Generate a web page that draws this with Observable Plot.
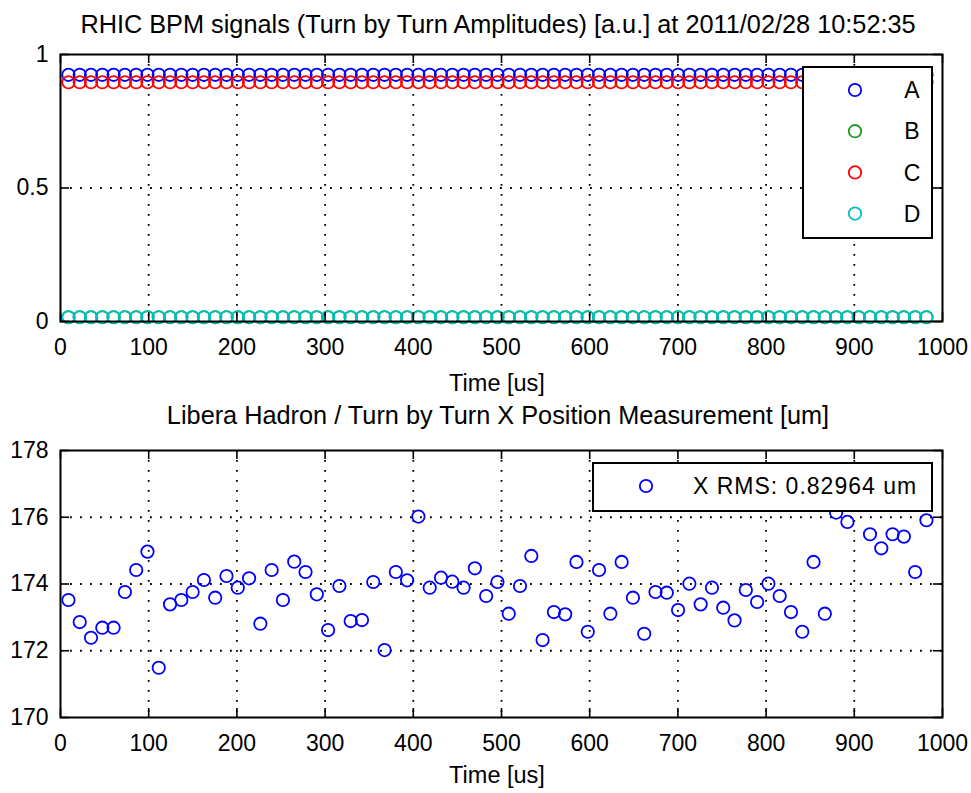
<!DOCTYPE html>
<html>
<head>
<meta charset="utf-8">
<script src="https://cdn.jsdelivr.net/npm/d3@7"></script>
<script src="https://cdn.jsdelivr.net/npm/@observablehq/plot@0.6"></script>
<style>
  html, body { margin: 0; padding: 0; background: #fff; }
  #wrap { position: relative; width: 971px; height: 793px; background: #fff; overflow: hidden;
          font-family: "Liberation Sans", Arial, Helvetica, sans-serif; color: #000; }
  .abs { position: absolute; }
  .ctr { transform: translate(-50%, -50%); white-space: nowrap; }
  .legend { position: absolute; box-sizing: border-box; border: 2px solid #000; background: #fff; }
</style>
</head>
<body>
<div id="wrap"></div>
<script>
// ---------- data ----------
const titleTop = "RHIC BPM signals (Turn by Turn Amplitudes) [a.u.] at 2011/02/28 10:52:35";
const titleBottom = "Libera Hadron / Turn by Turn X Position Measurement [um]";
const xLabel = "Time [us]";

// turn times [us]
const times = [9, 21.8, 34.6, 47.4, 60.2, 73, 85.8, 98.6, 111.4, 124.2,
  137, 149.8, 162.6, 175.4, 188.2, 201, 213.8, 226.6, 239.4, 252.2,
  265, 277.8, 290.6, 303.4, 316.2, 329, 341.8, 354.6, 367.4, 380.2,
  393, 405.8, 418.6, 431.4, 444.2, 457, 469.8, 482.6, 495.4, 508.2,
  521, 533.8, 546.6, 559.4, 572.2, 585, 597.8, 610.6, 623.4, 636.2,
  649, 661.8, 674.6, 687.4, 700.2, 713, 725.8, 738.6, 751.4, 764.2,
  777, 789.8, 802.6, 815.4, 828.2, 841, 853.8, 866.6, 879.4, 892.2,
  905, 917.8, 930.6, 943.4, 956.2, 969, 981.8];

// BPM channel amplitudes (constant per channel)
const channels = ["A", "B", "C", "D"];
const channelLevels = [0.924, 0.016, 0.896, 0.016];
const channelColors = ["#0000ff", "#1f9a1f", "#ff0000", "#00bfbf"];

// X position [um]
const xPos = [173.52, 172.86, 172.39, 172.69, 172.69, 173.76, 174.42, 174.97, 171.49, 173.39,
  173.52, 173.76, 174.12, 173.59, 174.24, 173.89, 174.17, 172.81, 174.42, 173.52,
  174.67, 174.36, 173.69, 172.62, 173.94, 172.89, 172.92, 174.06, 172.02, 174.36,
  174.11, 176.02, 173.89, 174.19, 174.07, 173.89, 174.47, 173.64, 174.06, 173.11,
  173.94, 174.84, 172.32, 173.16, 173.09, 174.66, 172.57, 174.42, 173.11, 174.66,
  173.59, 172.51, 173.76, 173.74, 173.22, 174.01, 173.39, 173.89, 173.29, 172.91,
  173.82, 173.46, 174.01, 173.64, 173.16, 172.57, 174.66, 173.11, 176.14, 175.86,
  176.6, 175.49, 175.07, 175.49, 175.42, 174.36, 175.91];
const rmsLabel = "X RMS: 0.82964 um";

const xTicks = [0, 100, 200, 300, 400, 500, 600, 700, 800, 900, 1000];
const xGrid = [100, 200, 300, 400, 500, 600, 700, 800, 900];
const yTicksTop = [0, 0.5, 1];
const yGridTop = [0.5];
const yTicksBottom = [170, 172, 174, 176, 178];
const yGridBottom = [172, 174, 176];

// ---------- build ----------
const FONT = '"Liberation Sans", Arial, Helvetica, sans-serif';
const W = 971, ML = 60, MR = 29, FH = 267, FW = W - ML - MR, TL = 9;
const R = 6.2, SW = 1.8;

const ampRows = channels.flatMap((c, i) => times.map(t => ({t, v: channelLevels[i], ch: c})));
const posRows = times.map((t, i) => ({t, v: xPos[i]}));

function subplot({height, marginTop, yDomain, yTicks, yGrid, dots, colorOpt}) {
  return Plot.plot({
    width: W, height,
    marginLeft: ML, marginRight: MR, marginTop, marginBottom: height - marginTop - FH,
    style: {fontFamily: FONT, fontSize: "23px", color: "#000", background: "transparent", overflow: "visible"},
    x: {domain: [0, 1000]},
    y: {domain: yDomain},
    color: colorOpt,
    marks: [
      Plot.gridX(xGrid, {stroke: "#000", strokeOpacity: 1, strokeWidth: 1.8, strokeDasharray: "1.8,8.2"}),
      Plot.gridY(yGrid, {stroke: "#000", strokeOpacity: 1, strokeWidth: 1.8, strokeDasharray: "1.8,8.2"}),
      dots,
      Plot.tickX(xTicks, {x: d => d, insetTop: FH - TL, stroke: "#000", strokeWidth: 1.6}),
      Plot.tickX(xTicks, {x: d => d, insetBottom: FH - TL, stroke: "#000", strokeWidth: 1.6}),
      Plot.tickY(yTicks, {y: d => d, insetRight: FW - TL, stroke: "#000", strokeWidth: 1.6}),
      Plot.tickY(yTicks, {y: d => d, insetLeft: FW - TL, stroke: "#000", strokeWidth: 1.6}),
      Plot.axisX({ticks: xTicks, tickSize: 0, tickPadding: 17, label: null, tickFormat: d => String(d)}),
      Plot.axisY({ticks: yTicks, tickSize: 0, tickPadding: 12, label: null, tickFormat: d => String(d)}),
      Plot.frame({stroke: "#000", strokeWidth: 2})
    ]
  });
}

const wrap = document.getElementById("wrap");

const topSvg = subplot({
  height: 400, marginTop: 54, yDomain: [0, 1], yTicks: yTicksTop, yGrid: yGridTop,
  colorOpt: {domain: channels, range: channelColors},
  dots: Plot.dot(ampRows, {x: "t", y: "v", stroke: "ch", r: R, strokeWidth: SW, fill: "none"})
});
const topBox = document.createElement("div");
topBox.className = "abs"; topBox.style.left = "0px"; topBox.style.top = "0px";
topBox.appendChild(topSvg);
wrap.appendChild(topBox);

const botSvg = subplot({
  height: 393, marginTop: 50, yDomain: [170, 178], yTicks: yTicksBottom, yGrid: yGridBottom,
  colorOpt: undefined,
  dots: Plot.dot(posRows, {x: "t", y: "v", stroke: "#0000ff", r: R, strokeWidth: SW, fill: "none"})
});
const botBox = document.createElement("div");
botBox.className = "abs"; botBox.style.left = "0px"; botBox.style.top = "400px";
botBox.appendChild(botSvg);
wrap.appendChild(botBox);

function addText(txt, cx, cy, size) {
  const d = document.createElement("div");
  d.className = "abs ctr";
  d.style.left = cx + "px"; d.style.top = cy + "px"; d.style.fontSize = size + "px";
  d.textContent = txt;
  wrap.appendChild(d);
}
addText(titleTop, 498, 24, 25.3);
addText(xLabel, 497, 383, 23.5);
addText(titleBottom, 498, 415, 25.3);
addText(xLabel, 497, 775, 23.5);

// legends
const NS = "http://www.w3.org/2000/svg";
function legend(left, top, w, h, entries, circleX, textX, textAnchor, rowY, spacing, letterSp) {
  const box = document.createElement("div");
  box.className = "legend";
  box.style.left = left + "px"; box.style.top = top + "px";
  box.style.width = w + "px"; box.style.height = h + "px";
  const svg = document.createElementNS(NS, "svg");
  svg.setAttribute("width", w - 4); svg.setAttribute("height", h - 4);
  svg.style.display = "block";
  entries.forEach((e, i) => {
    const y = rowY + i * spacing;
    const c = document.createElementNS(NS, "circle");
    c.setAttribute("cx", circleX); c.setAttribute("cy", y); c.setAttribute("r", R);
    c.setAttribute("fill", "none"); c.setAttribute("stroke", e.color); c.setAttribute("stroke-width", SW);
    svg.appendChild(c);
    const t = document.createElementNS(NS, "text");
    t.setAttribute("x", textX); t.setAttribute("y", y); t.setAttribute("dy", "0.36em");
    t.setAttribute("text-anchor", textAnchor);
    t.setAttribute("font-family", FONT); t.setAttribute("font-size", 23);
    if (letterSp) t.setAttribute("letter-spacing", letterSp);
    t.textContent = e.label;
    svg.appendChild(t);
  });
  box.appendChild(svg);
  wrap.appendChild(box);
}
legend(802, 66, 131, 173, channels.map((c, i) => ({label: c, color: channelColors[i]})),
       51, 108, "middle", 22, 41.2, null);
legend(592, 462, 341, 50, [{label: rmsLabel, color: "#0000ff"}],
       52, 99, "start", 22, 0, "1");
</script>
</body>
</html>
